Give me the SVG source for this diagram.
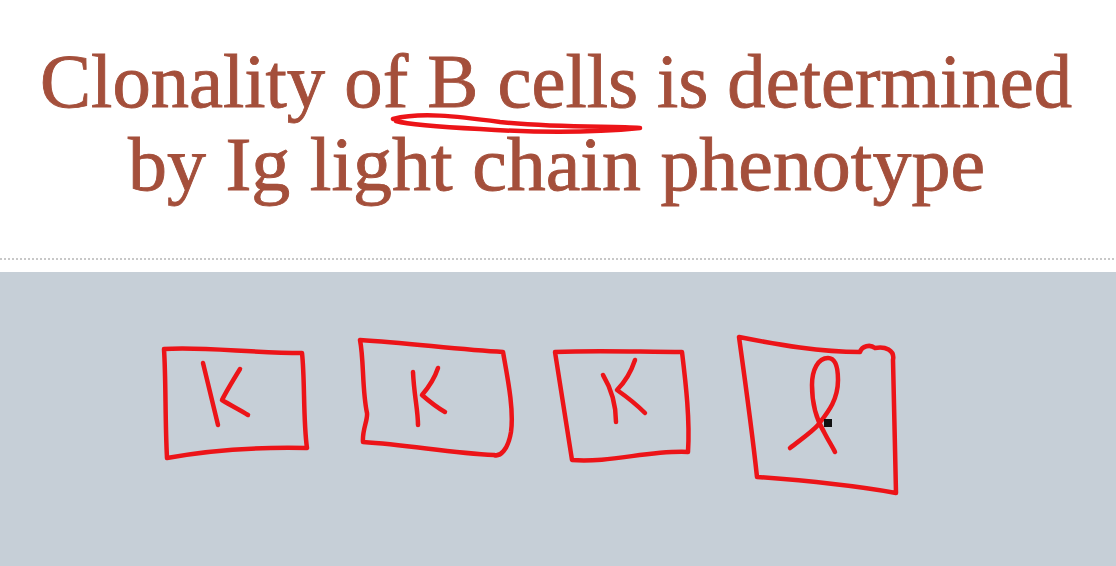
<svg xmlns="http://www.w3.org/2000/svg" width="1116" height="566" viewBox="0 0 1116 566">
<style>
.title{font-family:"Liberation Serif","DejaVu Serif",serif;font-size:77px;fill:#a44f3b;stroke:#a44f3b;stroke-width:0.9}
.ink{fill:none;stroke:#ec1418;stroke-width:4.5;stroke-linecap:round;stroke-linejoin:round}
</style>
<rect x="0" y="0" width="1116" height="566" fill="#ffffff"/>
<line x1="0" y1="259" x2="1116" y2="259" stroke="#c8c8c8" stroke-width="2" stroke-dasharray="2 2"/>
<rect x="0" y="272" width="1116" height="294" fill="#c6cfd7"/>
<g id="title">
<text class="title" x="40" y="107" textLength="1032" lengthAdjust="spacingAndGlyphs">Clonality of B cells is determined</text>
<text class="title" x="128" y="190" textLength="857" lengthAdjust="spacingAndGlyphs">by Ig light chain phenotype</text>
</g>
<g id="underline">
<path class="ink" d="M393 119 C420 112 455 116 500 122 C560 128 610 126 640 128 C600 132 540 133 480 129 C440 127 410 125 396 121"/>
</g>
<g id="box1">
<path class="ink" d="M164 349 C200 346 250 353 302 353 C305 380 303 420 307 448 C260 447 210 450 167 458 C165 420 166 380 164 349 Z"/>
<path class="ink" d="M203 363 L218 425 M240 369 C232 382 226 392 222 400 C230 405 240 410 248 415"/>
</g>
<g id="box2">
<path class="ink" d="M360 340 C410 343 460 350 503 352 C508 380 514 410 511 432 C508 450 500 457 494 455 C450 453 410 445 363 442 C362 430 368 420 367 413 C362 390 364 360 360 340 Z"/>
<path class="ink" d="M413 372 C414 395 418 410 418 425 M438 368 C434 380 428 388 422 395 C430 402 438 408 445 412"/>
</g>
<g id="box3">
<path class="ink" d="M555 352 C600 350 640 352 682 352 C686 385 690 420 688 452 C650 450 610 463 572 460 C566 420 560 385 555 352 Z"/>
<path class="ink" d="M603 375 C612 390 616 405 616 422 M635 360 C631 372 624 383 617 390 C627 397 637 405 645 413"/>
</g>
<g id="box4">
<path class="ink" d="M739 337 C780 345 820 352 860 352 C862 346 870 344 875 348 C885 346 895 350 893 360 C894 400 895 450 896 493 C850 485 800 480 757 477 C752 430 745 380 739 337 Z"/>
<path class="ink" d="M790 448 C800 440 812 432 818 425 C828 412 838 400 838 380 C838 365 834 358 828 358 C818 358 812 370 812 385 C812 405 818 422 824 432 C828 440 832 446 835 452"/>
<rect x="824" y="419" width="8" height="8" fill="#111"/>
</g>
</svg>
